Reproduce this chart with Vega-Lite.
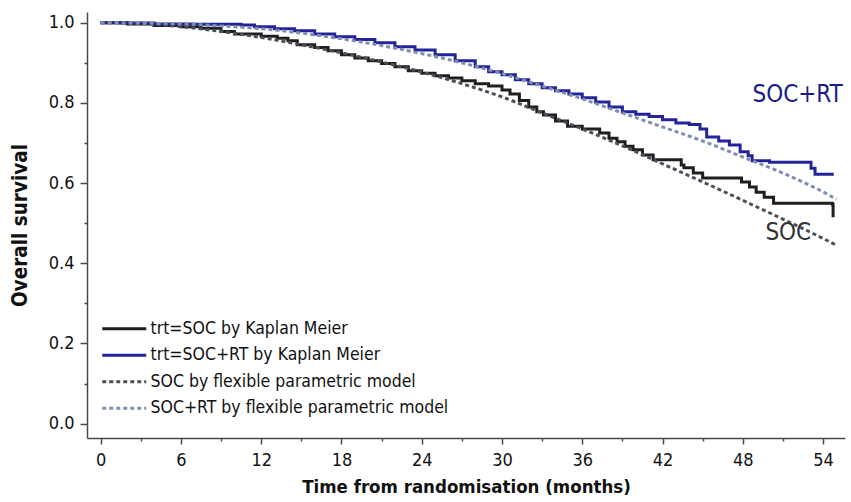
{
  "$schema": "https://vega.github.io/schema/vega-lite/v6.json",
  "width": 758,
  "height": 426,
  "autosize": {"type": "none"},
  "padding": {"left": 87, "top": 12, "right": 6, "bottom": 64},
  "background": "white",
  "config": {
    "view": {"stroke": null},
    "font": "DejaVu Sans Condensed",
    "axis": {
      "grid": false,
      "domainColor": "#4a4a4a",
      "domainWidth": 1.5,
      "tickColor": "#4a4a4a",
      "tickWidth": 1.5,
      "labelFont": "DejaVu Sans Condensed",
      "labelFontSize": 18,
      "labelColor": "#111",
      "titleFont": "DejaVu Sans Condensed",
      "titleFontWeight": "bold",
      "titleColor": "#111"
    }
  },
  "datasets": {
    "km": [
      {"t": 0, "s": 1.0, "series": "trt=SOC by Kaplan Meier"},
      {"t": 2, "s": 0.997, "series": "trt=SOC by Kaplan Meier"},
      {"t": 4, "s": 0.993, "series": "trt=SOC by Kaplan Meier"},
      {"t": 6, "s": 0.99, "series": "trt=SOC by Kaplan Meier"},
      {"t": 7.5, "s": 0.986, "series": "trt=SOC by Kaplan Meier"},
      {"t": 9, "s": 0.978, "series": "trt=SOC by Kaplan Meier"},
      {"t": 10, "s": 0.972, "series": "trt=SOC by Kaplan Meier"},
      {"t": 12, "s": 0.966, "series": "trt=SOC by Kaplan Meier"},
      {"t": 13.2, "s": 0.961, "series": "trt=SOC by Kaplan Meier"},
      {"t": 14, "s": 0.955, "series": "trt=SOC by Kaplan Meier"},
      {"t": 14.7, "s": 0.945, "series": "trt=SOC by Kaplan Meier"},
      {"t": 16, "s": 0.938, "series": "trt=SOC by Kaplan Meier"},
      {"t": 17, "s": 0.93, "series": "trt=SOC by Kaplan Meier"},
      {"t": 18, "s": 0.92, "series": "trt=SOC by Kaplan Meier"},
      {"t": 19, "s": 0.912, "series": "trt=SOC by Kaplan Meier"},
      {"t": 20, "s": 0.905, "series": "trt=SOC by Kaplan Meier"},
      {"t": 21, "s": 0.898, "series": "trt=SOC by Kaplan Meier"},
      {"t": 22, "s": 0.89, "series": "trt=SOC by Kaplan Meier"},
      {"t": 23, "s": 0.88, "series": "trt=SOC by Kaplan Meier"},
      {"t": 24, "s": 0.874, "series": "trt=SOC by Kaplan Meier"},
      {"t": 25, "s": 0.868, "series": "trt=SOC by Kaplan Meier"},
      {"t": 26, "s": 0.862, "series": "trt=SOC by Kaplan Meier"},
      {"t": 27, "s": 0.855, "series": "trt=SOC by Kaplan Meier"},
      {"t": 28, "s": 0.848, "series": "trt=SOC by Kaplan Meier"},
      {"t": 29, "s": 0.842, "series": "trt=SOC by Kaplan Meier"},
      {"t": 30, "s": 0.832, "series": "trt=SOC by Kaplan Meier"},
      {"t": 30.6, "s": 0.822, "series": "trt=SOC by Kaplan Meier"},
      {"t": 31.3, "s": 0.806, "series": "trt=SOC by Kaplan Meier"},
      {"t": 32, "s": 0.79, "series": "trt=SOC by Kaplan Meier"},
      {"t": 32.6, "s": 0.778, "series": "trt=SOC by Kaplan Meier"},
      {"t": 33.1, "s": 0.77, "series": "trt=SOC by Kaplan Meier"},
      {"t": 34, "s": 0.755, "series": "trt=SOC by Kaplan Meier"},
      {"t": 34.9, "s": 0.742, "series": "trt=SOC by Kaplan Meier"},
      {"t": 36, "s": 0.735, "series": "trt=SOC by Kaplan Meier"},
      {"t": 37.3, "s": 0.725, "series": "trt=SOC by Kaplan Meier"},
      {"t": 38, "s": 0.712, "series": "trt=SOC by Kaplan Meier"},
      {"t": 38.6, "s": 0.703, "series": "trt=SOC by Kaplan Meier"},
      {"t": 39.2, "s": 0.692, "series": "trt=SOC by Kaplan Meier"},
      {"t": 39.8, "s": 0.683, "series": "trt=SOC by Kaplan Meier"},
      {"t": 40.5, "s": 0.67, "series": "trt=SOC by Kaplan Meier"},
      {"t": 41.3, "s": 0.658, "series": "trt=SOC by Kaplan Meier"},
      {"t": 43.4, "s": 0.645, "series": "trt=SOC by Kaplan Meier"},
      {"t": 43.6, "s": 0.638, "series": "trt=SOC by Kaplan Meier"},
      {"t": 44.3, "s": 0.625, "series": "trt=SOC by Kaplan Meier"},
      {"t": 45, "s": 0.613, "series": "trt=SOC by Kaplan Meier"},
      {"t": 47.9, "s": 0.603, "series": "trt=SOC by Kaplan Meier"},
      {"t": 48.5, "s": 0.59, "series": "trt=SOC by Kaplan Meier"},
      {"t": 49, "s": 0.577, "series": "trt=SOC by Kaplan Meier"},
      {"t": 49.6, "s": 0.565, "series": "trt=SOC by Kaplan Meier"},
      {"t": 50.3, "s": 0.55, "series": "trt=SOC by Kaplan Meier"},
      {"t": 54.7, "s": 0.547, "series": "trt=SOC by Kaplan Meier"},
      {"t": 54.75, "s": 0.515, "series": "trt=SOC by Kaplan Meier"},
      {"t": 0, "s": 1.0, "series": "trt=SOC+RT by Kaplan Meier"},
      {"t": 1.5, "s": 0.999, "series": "trt=SOC+RT by Kaplan Meier"},
      {"t": 4, "s": 0.997, "series": "trt=SOC+RT by Kaplan Meier"},
      {"t": 7, "s": 0.996, "series": "trt=SOC+RT by Kaplan Meier"},
      {"t": 10.5, "s": 0.994, "series": "trt=SOC+RT by Kaplan Meier"},
      {"t": 11.5, "s": 0.99, "series": "trt=SOC+RT by Kaplan Meier"},
      {"t": 13, "s": 0.985, "series": "trt=SOC+RT by Kaplan Meier"},
      {"t": 14.5, "s": 0.98, "series": "trt=SOC+RT by Kaplan Meier"},
      {"t": 16, "s": 0.972, "series": "trt=SOC+RT by Kaplan Meier"},
      {"t": 17.5, "s": 0.965, "series": "trt=SOC+RT by Kaplan Meier"},
      {"t": 19, "s": 0.958, "series": "trt=SOC+RT by Kaplan Meier"},
      {"t": 20.5, "s": 0.95, "series": "trt=SOC+RT by Kaplan Meier"},
      {"t": 22, "s": 0.94, "series": "trt=SOC+RT by Kaplan Meier"},
      {"t": 23.5, "s": 0.932, "series": "trt=SOC+RT by Kaplan Meier"},
      {"t": 25, "s": 0.92, "series": "trt=SOC+RT by Kaplan Meier"},
      {"t": 26.5, "s": 0.905, "series": "trt=SOC+RT by Kaplan Meier"},
      {"t": 28, "s": 0.89, "series": "trt=SOC+RT by Kaplan Meier"},
      {"t": 29, "s": 0.878, "series": "trt=SOC+RT by Kaplan Meier"},
      {"t": 30, "s": 0.87, "series": "trt=SOC+RT by Kaplan Meier"},
      {"t": 31, "s": 0.858, "series": "trt=SOC+RT by Kaplan Meier"},
      {"t": 32, "s": 0.848, "series": "trt=SOC+RT by Kaplan Meier"},
      {"t": 33, "s": 0.838, "series": "trt=SOC+RT by Kaplan Meier"},
      {"t": 34, "s": 0.83, "series": "trt=SOC+RT by Kaplan Meier"},
      {"t": 35, "s": 0.822, "series": "trt=SOC+RT by Kaplan Meier"},
      {"t": 36, "s": 0.813, "series": "trt=SOC+RT by Kaplan Meier"},
      {"t": 37, "s": 0.802, "series": "trt=SOC+RT by Kaplan Meier"},
      {"t": 38, "s": 0.79, "series": "trt=SOC+RT by Kaplan Meier"},
      {"t": 39, "s": 0.778, "series": "trt=SOC+RT by Kaplan Meier"},
      {"t": 40, "s": 0.772, "series": "trt=SOC+RT by Kaplan Meier"},
      {"t": 41, "s": 0.766, "series": "trt=SOC+RT by Kaplan Meier"},
      {"t": 42, "s": 0.758, "series": "trt=SOC+RT by Kaplan Meier"},
      {"t": 43, "s": 0.75, "series": "trt=SOC+RT by Kaplan Meier"},
      {"t": 44, "s": 0.746, "series": "trt=SOC+RT by Kaplan Meier"},
      {"t": 44.8, "s": 0.735, "series": "trt=SOC+RT by Kaplan Meier"},
      {"t": 45.3, "s": 0.715, "series": "trt=SOC+RT by Kaplan Meier"},
      {"t": 46.2, "s": 0.705, "series": "trt=SOC+RT by Kaplan Meier"},
      {"t": 47, "s": 0.695, "series": "trt=SOC+RT by Kaplan Meier"},
      {"t": 47.8, "s": 0.678, "series": "trt=SOC+RT by Kaplan Meier"},
      {"t": 48.4, "s": 0.668, "series": "trt=SOC+RT by Kaplan Meier"},
      {"t": 48.7, "s": 0.656, "series": "trt=SOC+RT by Kaplan Meier"},
      {"t": 50, "s": 0.652, "series": "trt=SOC+RT by Kaplan Meier"},
      {"t": 53.1, "s": 0.637, "series": "trt=SOC+RT by Kaplan Meier"},
      {"t": 53.4, "s": 0.622, "series": "trt=SOC+RT by Kaplan Meier"},
      {"t": 54.8, "s": 0.622, "series": "trt=SOC+RT by Kaplan Meier"}
    ],
    "fpm": [
      {"t": 0, "s": 1.0, "series": "SOC by flexible parametric model"},
      {"t": 3, "s": 0.998, "series": "SOC by flexible parametric model"},
      {"t": 6, "s": 0.99, "series": "SOC by flexible parametric model"},
      {"t": 9, "s": 0.978, "series": "SOC by flexible parametric model"},
      {"t": 12, "s": 0.963, "series": "SOC by flexible parametric model"},
      {"t": 15, "s": 0.945, "series": "SOC by flexible parametric model"},
      {"t": 18, "s": 0.925, "series": "SOC by flexible parametric model"},
      {"t": 21, "s": 0.902, "series": "SOC by flexible parametric model"},
      {"t": 24, "s": 0.877, "series": "SOC by flexible parametric model"},
      {"t": 27, "s": 0.848, "series": "SOC by flexible parametric model"},
      {"t": 30, "s": 0.815, "series": "SOC by flexible parametric model"},
      {"t": 33, "s": 0.775, "series": "SOC by flexible parametric model"},
      {"t": 36, "s": 0.735, "series": "SOC by flexible parametric model"},
      {"t": 39, "s": 0.693, "series": "SOC by flexible parametric model"},
      {"t": 42, "s": 0.648, "series": "SOC by flexible parametric model"},
      {"t": 45, "s": 0.603, "series": "SOC by flexible parametric model"},
      {"t": 48, "s": 0.557, "series": "SOC by flexible parametric model"},
      {"t": 51, "s": 0.51, "series": "SOC by flexible parametric model"},
      {"t": 54, "s": 0.462, "series": "SOC by flexible parametric model"},
      {"t": 55, "s": 0.445, "series": "SOC by flexible parametric model"},
      {"t": 0, "s": 1.0, "series": "SOC+RT by flexible parametric model"},
      {"t": 3, "s": 0.999, "series": "SOC+RT by flexible parametric model"},
      {"t": 6, "s": 0.997, "series": "SOC+RT by flexible parametric model"},
      {"t": 9, "s": 0.992, "series": "SOC+RT by flexible parametric model"},
      {"t": 12, "s": 0.985, "series": "SOC+RT by flexible parametric model"},
      {"t": 15, "s": 0.974, "series": "SOC+RT by flexible parametric model"},
      {"t": 18, "s": 0.96, "series": "SOC+RT by flexible parametric model"},
      {"t": 21, "s": 0.943, "series": "SOC+RT by flexible parametric model"},
      {"t": 24, "s": 0.923, "series": "SOC+RT by flexible parametric model"},
      {"t": 27, "s": 0.9, "series": "SOC+RT by flexible parametric model"},
      {"t": 30, "s": 0.873, "series": "SOC+RT by flexible parametric model"},
      {"t": 33, "s": 0.842, "series": "SOC+RT by flexible parametric model"},
      {"t": 36, "s": 0.81, "series": "SOC+RT by flexible parametric model"},
      {"t": 39, "s": 0.775, "series": "SOC+RT by flexible parametric model"},
      {"t": 42, "s": 0.74, "series": "SOC+RT by flexible parametric model"},
      {"t": 45, "s": 0.705, "series": "SOC+RT by flexible parametric model"},
      {"t": 48, "s": 0.665, "series": "SOC+RT by flexible parametric model"},
      {"t": 51, "s": 0.625, "series": "SOC+RT by flexible parametric model"},
      {"t": 54, "s": 0.578, "series": "SOC+RT by flexible parametric model"},
      {"t": 55, "s": 0.56, "series": "SOC+RT by flexible parametric model"}
    ],
    "labels": [
      {"t": 52.1, "s": 0.82, "text": "SOC+RT", "grp": "rt"},
      {"t": 51.4, "s": 0.476, "text": "SOC", "grp": "soc"}
    ]
  },
  "encoding": {
    "x": {
      "field": "t",
      "type": "quantitative",
      "scale": {"domain": [-1.02, 55.64], "nice": false, "zero": false},
      "axis": {
        "title": "Time from randomisation (months)",
        "titleFontSize": 18.5,
        "values": [0, 3, 6, 9, 12, 15, 18, 21, 24, 27, 30, 33, 36, 39, 42, 45, 48, 51, 54],
        "labelExpr": "datum.value % 6 == 0 ? datum.label : ''",
        "tickSize": {"condition": {"test": "datum.value % 6 != 0", "value": 3}, "value": 6},
        "labelPadding": 7,
        "titlePadding": 8
      }
    },
    "y": {
      "field": "s",
      "type": "quantitative",
      "scale": {"domain": [-0.0357, 1.0267], "nice": false, "zero": false},
      "axis": {
        "title": "Overall survival",
        "titleFontSize": 20.5,
        "values": [0, 0.1, 0.2, 0.3, 0.4, 0.5, 0.6, 0.7, 0.8, 0.9, 1.0],
        "format": ".1f",
        "labelExpr": "round(datum.value * 10) % 2 == 0 ? datum.label : ''",
        "tickSize": {"condition": {"test": "round(datum.value * 10) % 2 != 0", "value": 3}, "value": 7},
        "labelPadding": 6,
        "titlePadding": 18
      }
    }
  },
  "layer": [
    {
      "data": {"name": "km"},
      "mark": {"type": "line", "interpolate": "step-after"},
      "encoding": {
        "color": {
          "field": "series", "type": "nominal",
          "scale": {
            "domain": ["trt=SOC by Kaplan Meier", "trt=SOC+RT by Kaplan Meier", "SOC by flexible parametric model", "SOC+RT by flexible parametric model"],
            "range": ["#1e1e1e", "#23239a", "#4a505a", "#7d8fb0"]
          },
          "legend": {
            "title": null,
            "orient": "none",
            "legendX": 12,
            "legendY": 308,
            "padding": 0,
            "symbolType": "M-1,0H7",
            "symbolSize": 121,
            "labelFontSize": 17.5,
            "labelFont": "DejaVu Sans Condensed",
            "labelColor": "#111",
            "labelOffset": 34,
            "rowPadding": 7.5,
            "labelLimit": 400
          }
        },
        "strokeDash": {
          "field": "series", "type": "nominal",
          "scale": {
            "domain": ["trt=SOC by Kaplan Meier", "trt=SOC+RT by Kaplan Meier", "SOC by flexible parametric model", "SOC+RT by flexible parametric model"],
            "range": [[1, 0], [1, 0], [4, 3], [4, 3]]
          },
          "legend": {"title": null}
        },
        "strokeWidth": {
          "field": "series", "type": "nominal",
          "scale": {
            "domain": ["trt=SOC by Kaplan Meier", "trt=SOC+RT by Kaplan Meier", "SOC by flexible parametric model", "SOC+RT by flexible parametric model"],
            "range": [3, 3, 1.8, 1.8]
          },
          "legend": {"title": null}
        }
      }
    },
    {
      "data": {"name": "fpm"},
      "mark": {"type": "line", "interpolate": "monotone"},
      "encoding": {
        "color": {"field": "series", "type": "nominal"},
        "strokeDash": {"field": "series", "type": "nominal"},
        "strokeWidth": {"field": "series", "type": "nominal"}
      }
    },
    {
      "data": {"name": "labels"},
      "transform": [{"filter": "datum.grp == 'rt'"}],
      "mark": {"type": "text", "font": "DejaVu Sans Condensed", "fontSize": 24, "align": "center", "baseline": "middle", "color": "#1a1a8c"},
      "encoding": {"text": {"field": "text", "type": "nominal"}}
    },
    {
      "data": {"name": "labels"},
      "transform": [{"filter": "datum.grp == 'soc'"}],
      "mark": {"type": "text", "font": "DejaVu Sans Condensed", "fontSize": 24, "align": "center", "baseline": "middle", "color": "#333333"},
      "encoding": {"text": {"field": "text", "type": "nominal"}}
    }
  ]
}
